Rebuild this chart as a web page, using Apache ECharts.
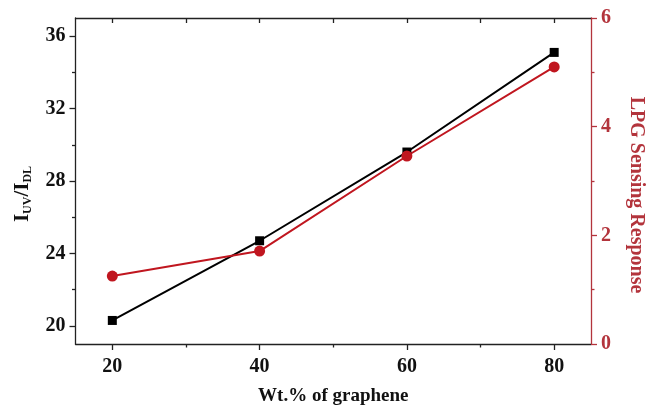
<!DOCTYPE html>
<html>
<head>
<meta charset="utf-8">
<script src="https://cdn.jsdelivr.net/npm/echarts@6/dist/echarts.min.js"></script>
<style>
html,body{margin:0;padding:0;background:#fff;}
#c{width:654px;height:411px;}
</style>
</head>
<body>
<div id="c"></div>
<script>
const xValues = [20, 40, 60, 80];
const ratioValues = [20.3, 24.7, 29.6, 35.1];      // I_UV / I_DL (left axis)
const lpgResponse = [1.25, 1.71, 3.46, 5.10];      // LPG sensing response (right axis)
const xMajorTicks = [20, 40, 60, 80];
const xMinorTicks = [30, 50, 70];
const yLeftMajor = [20, 24, 28, 32, 36];
const yLeftMinor = [22, 26, 30, 34];

const FONT = "'Liberation Serif','Times New Roman',serif";
const RED = '#c0161f';
const RED_AXIS = '#b3343c';

const chart = echarts.init(document.getElementById('c'), null, {renderer: 'canvas'});

const grid = {left: 75.5, right: 52.5, top: 18, bottom: 64};

function xAxisBase(extra) {
  return Object.assign({
    type: 'value', min: 15, max: 85,
    splitLine: {show: false},
    axisLine: {show: false},
    axisLabel: {show: false},
    axisTick: {show: false}
  }, extra);
}

const option = {
  animation: false,
  grid: grid,
  xAxis: [
    xAxisBase({
      position: 'bottom',
      name: 'Wt.% of graphene',
      nameLocation: 'middle',
      nameGap: 43,
      nameTextStyle: {fontFamily: FONT, fontWeight: 'bold', fontSize: 19, color: '#111'},
      axisLine: {show: true, lineStyle: {color: '#222', width: 1.3}},
      axisTick: {show: true, inside: false, length: 6, customValues: xMajorTicks, lineStyle: {color: '#222', width: 1.3}},
      axisLabel: {show: true, customValues: xMajorTicks, margin: 13, fontFamily: FONT, fontWeight: 'bold', fontSize: 20, color: '#111'}
    }),
    xAxisBase({
      position: 'bottom',
      axisTick: {show: true, inside: false, length: 3.5, customValues: xMinorTicks, lineStyle: {color: '#222', width: 1.3}}
    }),
    xAxisBase({
      position: 'top',
      axisLine: {show: true, lineStyle: {color: '#222', width: 1.3}},
      axisTick: {show: true, inside: true, length: 5, customValues: xMajorTicks.concat(xMinorTicks), lineStyle: {color: '#222', width: 1.3}}
    })
  ],
  yAxis: [
    {
      type: 'value', min: 19, max: 37, position: 'left',
      splitLine: {show: false},
      name: '{b|I}{s|UV}{b|/I}{s|DL}',
      nameLocation: 'middle',
      nameGap: 42,
      nameTextStyle: {
        fontFamily: FONT, fontWeight: 'bold', color: '#111',
        padding: [0, 26, 0, 0],
        rich: {
          b: {fontFamily: FONT, fontWeight: 'bold', fontSize: 21, color: '#111', verticalAlign: 'bottom', lineHeight: 24},
          s: {fontFamily: FONT, fontWeight: 'bold', fontSize: 12, color: '#111', verticalAlign: 'bottom', lineHeight: 18}
        }
      },
      axisLine: {show: true, lineStyle: {color: '#222', width: 1.3}},
      axisTick: {show: true, inside: false, length: 6, customValues: yLeftMajor, lineStyle: {color: '#222', width: 1.3}},
      axisLabel: {customValues: yLeftMajor, margin: 10, fontFamily: FONT, fontWeight: 'bold', fontSize: 20, color: '#111'}
    },
    {
      type: 'value', min: 19, max: 37, position: 'left',
      splitLine: {show: false},
      axisLine: {show: false},
      axisLabel: {show: false},
      axisTick: {show: true, inside: false, length: 3.5, customValues: yLeftMinor, lineStyle: {color: '#222', width: 1.3}}
    },
    {
      type: 'value', min: 0, max: 6, interval: 2, position: 'right',
      splitLine: {show: false},
      name: 'LPG Sensing Response',
      nameLocation: 'middle',
      nameRotate: -90,
      nameGap: 35,
      nameTextStyle: {fontFamily: FONT, fontWeight: 'bold', fontSize: 20, color: RED_AXIS, padding: [0, 0, 0, 28]},
      axisLine: {show: true, lineStyle: {color: RED_AXIS, width: 1.3}},
      axisTick: {show: true, inside: false, length: 6, lineStyle: {color: RED_AXIS, width: 1.3}},
      minorTick: {show: true, splitNumber: 2, length: 3.5, lineStyle: {color: RED_AXIS, width: 1.3}},
      axisLabel: {margin: 10, fontFamily: FONT, fontWeight: 'bold', fontSize: 20, color: RED_AXIS}
    }
  ],
  series: [
    {
      type: 'line', xAxisIndex: 0, yAxisIndex: 0,
      data: xValues.map((x, i) => [x, ratioValues[i]]),
      symbol: 'rect', symbolSize: 9,
      itemStyle: {color: '#000'},
      lineStyle: {color: '#000', width: 2}
    },
    {
      type: 'line', xAxisIndex: 0, yAxisIndex: 2,
      data: xValues.map((x, i) => [x, lpgResponse[i]]),
      symbol: 'circle', symbolSize: 11,
      itemStyle: {color: RED},
      lineStyle: {color: RED, width: 2}
    }
  ]
};
chart.setOption(option);
</script>
</body>
</html>
